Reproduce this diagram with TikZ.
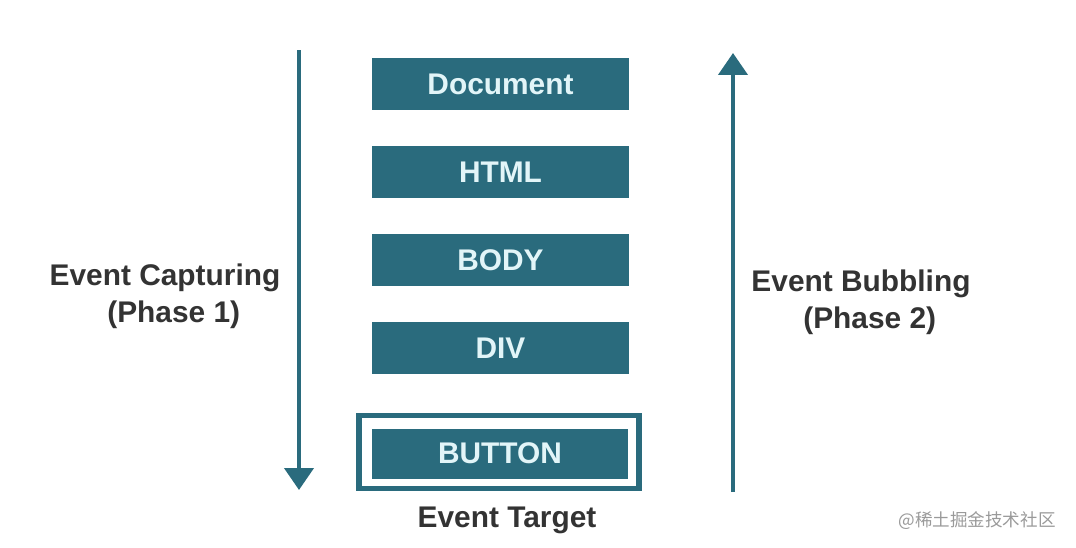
\documentclass[tikz,border=0pt]{standalone}
\usepackage{fontspec}
\setmainfont{Liberation Sans}
\newfontfamily\cjk{Noto Sans CJK SC}
\usepackage{xcolor}
\definecolor{Teal}{HTML}{2A6B7D}
\definecolor{PaleCyan}{HTML}{E2F5F8}
\definecolor{Ink}{HTML}{333333}
\definecolor{Mark}{HTML}{9A9A9A}
\usetikzlibrary{positioning,calc,arrows.meta}

\begin{document}
\begin{tikzpicture}[x=0.02cm,y=-0.02cm,
 elem/.style={rectangle,fill=Teal,text=PaleCyan,minimum width=5.14cm,minimum height=1.03cm,
  inner sep=0pt,font=\fontsize{17}{20}\selectfont\bfseries},
 frame/.style={rectangle,draw=Teal,line width=2.9pt,fill=white,minimum width=5.6cm,
  minimum height=1.47cm,inner sep=0pt},
 phase/.style={align=center,text=Ink,font=\fontsize{17}{21}\selectfont\bfseries},
 flow/.style={Teal,line width=2.4pt,-{Triangle[width=0.58cm,length=0.44cm]}}]
\useasboundingbox (0,0) rectangle (1076,548);
\node[elem] (doc) at (500.5,84) {Document};
\node[elem] (html) at (500.5,172) {HTML};
\node[elem] (body) at (500.5,260) {BODY};
\node[elem] (div) at (500.5,348) {DIV};
\node[frame] (target) at (499,452) {};
\node[elem,minimum height=1.0cm] (button) at (500,453.5) {BUTTON};
\node[phase] (tlabel) at (507,520) {Event Target};
% capturing goes down, bubbling goes up
\coordinate (capTop) at (299,50); \coordinate (capEnd) at (299,490);
\coordinate (bubStart) at (733,492); \coordinate (bubTop) at (733,53);
\draw[flow] (capTop)--(capEnd);
\draw[flow] (bubStart)--(bubTop);
\node[phase] (capture) at (165,296) {Event Capturing\\\hspace*{0.35cm}(Phase 1)};
\node[phase] (bubble) at (861,302) {Event Bubbling\\\hspace*{0.35cm}(Phase 2)};
\node[text=Mark,font=\cjk\fontsize{10}{12}\selectfont] (mark) at (977,521) {@稀土掘金技术社区};
\end{tikzpicture}
\end{document}
